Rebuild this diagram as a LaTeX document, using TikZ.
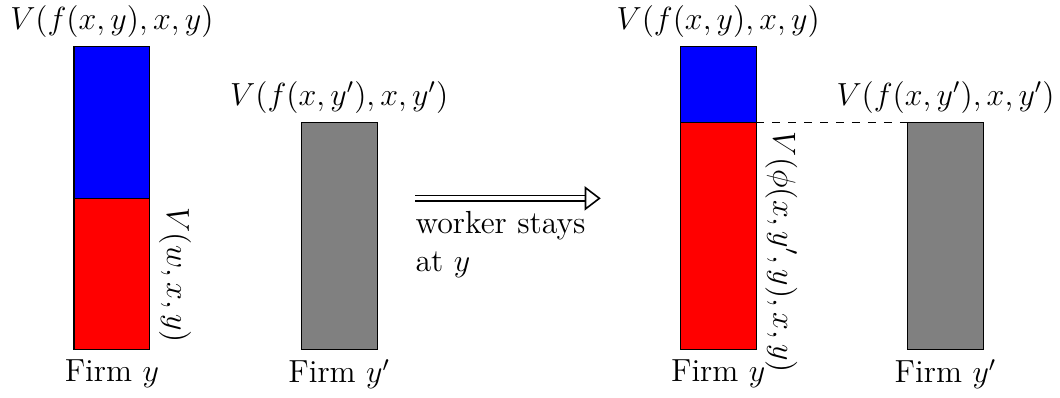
\documentclass[tikz,border=0pt]{standalone}
\usetikzlibrary{arrows.meta, positioning}

\begin{document}
\begin{tikzpicture}[
  font=\large,
  bar/.style={rectangle, draw=black, minimum width=1cm, inner sep=0pt,
              outer sep=0pt, anchor=south west},
  side/.style={rotate=-90, anchor=south west},
  implies/.style={double, line width=0.6pt, double distance=1.5pt,
                  -{Triangle[open, length=6pt, width=9pt, line width=0.6pt]}}
]
  \useasboundingbox (0.024,-0.633) rectangle (14.01,4.617);

  % before
  \node[bar, fill=red, minimum height=2cm] (wage) at (1,0) {};
  \node[bar, fill=blue, minimum height=2cm] (rent) at (1,2) {};
  \node[bar, fill=gray, minimum height=3cm] (outside) at (4,0) {};
  \node[above=0pt of rent] (vtop) {$V(f(x,y),x,y)$};
  \node[above=0pt of outside] (vout) {$V(f(x,y'),x,y')$};
  \node[below=0pt of wage] (firm) {Firm $y$};
  \node[below=0pt of outside] (firmout) {Firm $y'$};
  \node[side] (vw) at (wage.north east) {$V(w,x,y)$};

  % arrow
  \coordinate (arrstart) at (5.5,2);
  \coordinate (arrend) at (7.95,2);
  \draw[implies] (arrstart) -- (arrend);
  \node[anchor=north west, align=left, inner xsep=0pt, yshift=-1.5pt] (stays)
    at (arrstart) {worker stays\\at $y$};

  % after
  \node[bar, fill=red, minimum height=3cm] (wage2) at (9,0) {};
  \node[bar, fill=blue, minimum height=1cm] (rent2) at (9,3) {};
  \node[bar, fill=gray, minimum height=3cm] (outside2) at (12,0) {};
  \node[above=0pt of rent2] (vtop2) {$V(f(x,y),x,y)$};
  \node[above=0pt of outside2] (vout2) {$V(f(x,y'),x,y')$};
  \node[below=0pt of wage2] (firm2) {Firm $y$};
  \node[below=0pt of outside2] (firmout2) {Firm $y'$};
  \node[side] (vphi) at (wage2.north east) {$V(\phi(x,y',y),x,y)$};
  \draw[dashed] (wage2.north east) -- (outside2.north west);
\end{tikzpicture}
\end{document}
